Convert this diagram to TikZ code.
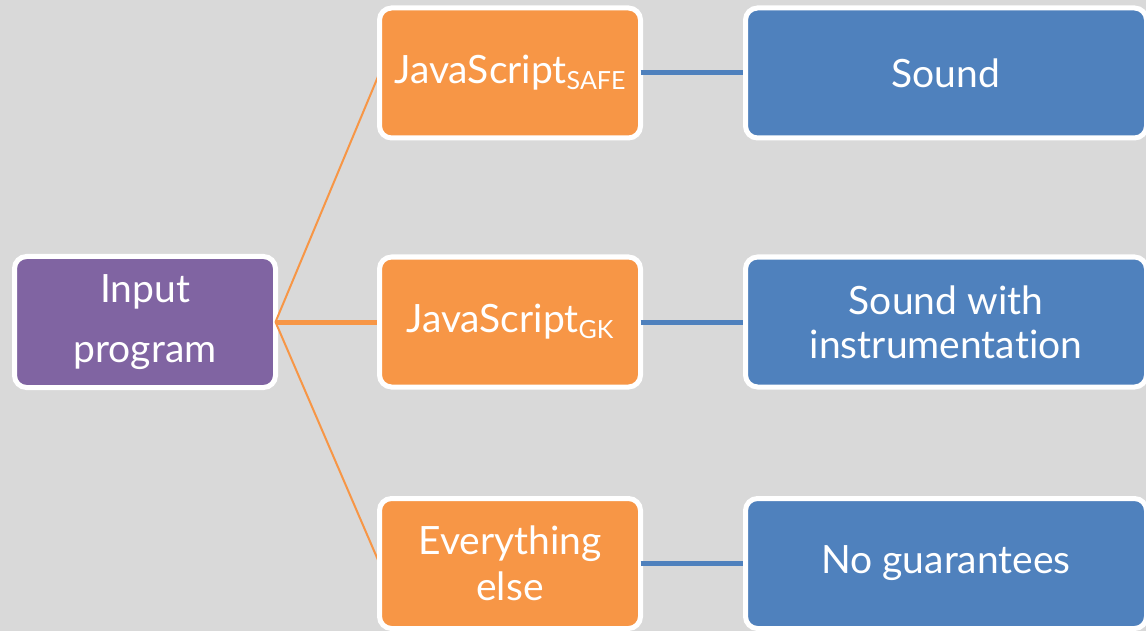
\documentclass[tikz,border=0pt]{standalone}
\usepackage{fontspec}
\setmainfont{Lato}[RawFeature={-liga,-dlig,-calt}]

\definecolor{canvasgray}{HTML}{D9D9D9}
\definecolor{rootpurple}{HTML}{8064A2}
\definecolor{langorange}{HTML}{F79646}
\definecolor{resultblue}{HTML}{4F81BD}

% drawing order: canvas, root box, left wires, language boxes, right wires, result boxes
\pgfdeclarelayer{canvas}
\pgfdeclarelayer{rootlayer}
\pgfdeclarelayer{leftwires}
\pgfdeclarelayer{langlayer}
\pgfdeclarelayer{rightwires}
\pgfsetlayers{canvas,rootlayer,leftwires,langlayer,rightwires,main}

\newcommand{\langsub}[1]{\raisebox{-6pt}{\fontsize{25}{25}\selectfont #1}}

\begin{document}
\begin{tikzpicture}[x=1pt,y=-1pt,
  box/.style={rectangle, rounded corners=12pt, draw=white, line width=5pt,
    inner sep=0pt, outer sep=0pt, text=white, align=center,
    font=\fontsize{39}{44}\selectfont, minimum height=130pt},
  rootbox/.style={box, fill=rootpurple, minimum width=261pt, minimum height=131pt},
  langbox/.style={box, fill=langorange, minimum width=261pt},
  resultbox/.style={box, fill=resultblue, minimum width=401pt},
  thinwire/.style={draw=langorange, line width=2pt},
  thickwire/.style={draw=langorange, line width=5pt},
  bluewire/.style={draw=resultblue, line width=5pt}]

\begin{pgfonlayer}{canvas}
  \fill[canvasgray] (0,0) rectangle (1146,631);
\end{pgfonlayer}
\useasboundingbox (0,0) rectangle (1146,631);

\begin{pgfonlayer}{rootlayer}
  \node[rootbox, font=\fontsize{39}{60}\selectfont] (input) at (145,322) {Input\\program};
\end{pgfonlayer}

\begin{pgfonlayer}{langlayer}
  \node[langbox] (jssafe) at (510,73) {JavaScript\langsub{SAFE}};
  \node[langbox] (jsgk) at (510,322) {JavaScript\langsub{GK}};
  \node[langbox, font=\fontsize{39}{46}\selectfont] (other) at (510,563.5) {Everything\\else};
\end{pgfonlayer}

\node[resultbox] (sound) at (946,73) {Sound};
\node[resultbox] (instr) at (946,322) {Sound with\\instrumentat\kern0pt ion};
\node[resultbox] (none) at (946,563.5) {No guarantees};

\begin{pgfonlayer}{leftwires}
  \draw[thinwire] (input.east) -- (jssafe.west);
  \draw[thickwire] (input.east) -- (jsgk.west);
  \draw[thinwire] (input.east) -- (other.west);
\end{pgfonlayer}

\begin{pgfonlayer}{rightwires}
  \draw[bluewire] (jssafe.east) -- (sound.west);
  \draw[bluewire] (jsgk.east) -- (instr.west);
  \draw[bluewire] (other.east) -- (none.west);
\end{pgfonlayer}
\end{tikzpicture}
\end{document}
